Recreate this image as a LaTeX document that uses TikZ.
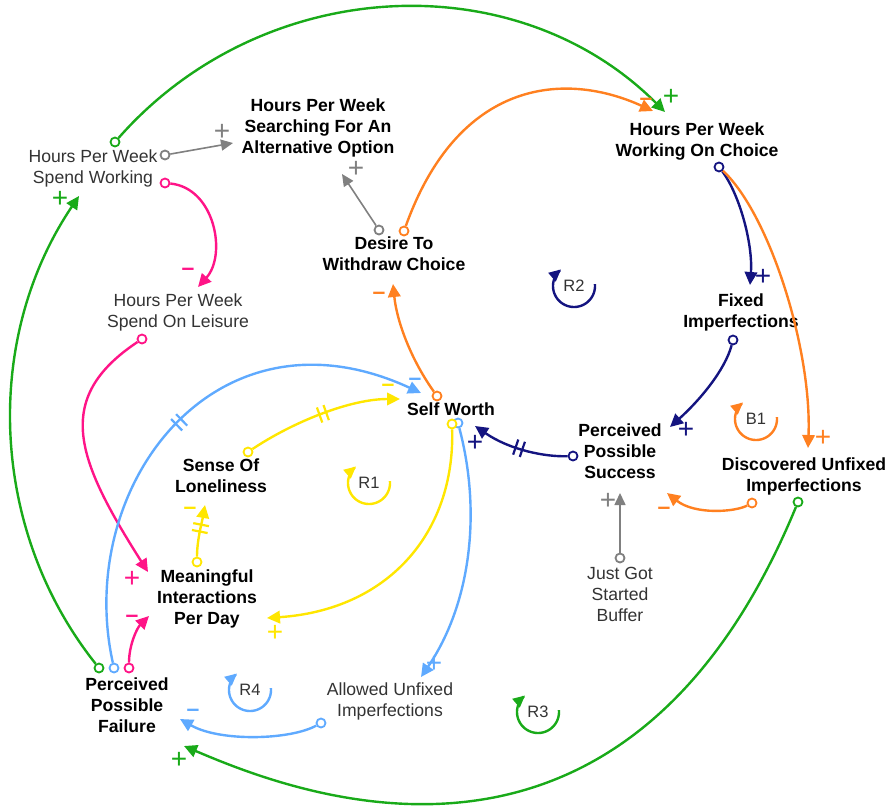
\documentclass[tikz,border=0pt]{standalone}
\usepackage{fontspec}
\setmainfont{Liberation Sans}
\usetikzlibrary{arrows.meta,decorations.markings}
\definecolor{cgreen}{RGB}{25,170,25}
\definecolor{corange}{RGB}{255,128,32}
\definecolor{cpink}{RGB}{255,20,135}
\definecolor{cnavy}{RGB}{20,20,128}
\definecolor{cblue}{RGB}{95,170,255}
\definecolor{cyellow}{RGB}{255,230,0}
\definecolor{cgray}{RGB}{128,128,128}
\tikzset{
  var/.style={font=\fontsize{17.6}{21}\selectfont, align=center, text=black!80, inner sep=0pt},
  bvar/.style={font=\fontsize{17.6}{21}\selectfont\bfseries, align=center, text=black, inner sep=0pt},
  lnk/.style={line width=2.4pt, -{Triangle[length=13pt,width=12.5pt]}},
  glnk/.style={line width=1.6pt, cgray, -{Triangle[length=12pt,width=11pt]}},
  src/.style={circle, draw, line width=1.8pt, fill=white, minimum size=9pt, inner sep=0pt},
  sgnp/.style={font=\fontsize{28}{28}\selectfont, inner sep=0pt},
  sgnm/.style={font=\fontsize{23}{23}\selectfont\bfseries, inner sep=0pt},
  loopl/.style={font=\fontsize{16.5}{18}\selectfont, text=black!80, inner sep=0pt},
  delay/.style 2 args={postaction={decorate,decoration={markings,
      mark=at position #1 with {\draw[-, line width=2.2pt, #2] (-3.5,-8) -- (-3.5,8) (3.5,-8) -- (3.5,8);}}}}
}
\newcommand{\loopmark}[5]{%
  \draw[#3, line width=2.4pt, -{Triangle[length=12pt,width=11pt]}]
    plot[domain=-5:232, samples=50] ({#1+21*cos(\x)},{#2+21*sin(\x)});
  \node[loopl] (#5) at (#1,#2) {#4};
}
\begin{document}
\begin{tikzpicture}[x=1pt,y=-1pt]
\useasboundingbox (0,0) rectangle (888,811);

% variables
\node[var]  (sw) at (93,168)  {Hours Per Week\\Spend Working};
\node[bvar] (sa) at (318,128) {Hours Per Week\\Searching For An\\Alternative Option};
\node[bvar] (wc) at (697,141) {Hours Per Week\\Working On Choice};
\node[bvar] (dw) at (394,254) {Desire To\\Withdraw Choice};
\node[var]  (sl) at (178,312) {Hours Per Week\\Spend On Leisure};
\node[bvar] (fi) at (741,312) {Fixed\\Imperfections};
\node[bvar] (sf) at (451,409) {Self Worth};
\node[bvar] (lo) at (221,476) {Sense Of\\Loneliness};
\node[bvar] (ps) at (620,451) {Perceived\\Possible\\Success};
\node[bvar] (du) at (804,476) {Discovered Unfixed\\Imperfections};
\node[bvar] (mi) at (207,599) {Meaningful\\Interactions\\Per Day};
\node[var]  (jb) at (620,594) {Just Got\\Started\\Buffer};
\node[bvar] (pf) at (127,705) {Perceived\\Possible\\Failure};
\node[var]  (au) at (390,701) {Allowed Unfixed\\Imperfections};

% source circles
\node[src,draw=cgreen]  (c1)  at (115,142) {};
\node[src,draw=cgray]   (c2)  at (165,155) {};
\node[src,draw=cpink]   (c3)  at (165,183) {};
\node[src,draw=cgray]   (c4)  at (379,230) {};
\node[src,draw=corange] (c5)  at (404,231) {};
\node[src,draw=cpink]   (c6)  at (142,339) {};
\node[src,draw=cnavy]   (c7)  at (719,167) {};
\node[src,draw=cnavy]   (c8)  at (733,340) {};
\node[src,draw=corange] (c9)  at (437,396) {};
\node[src,draw=cblue]   (c11) at (458,423) {};
\node[src,draw=cyellow] (c10) at (452,424) {};
\node[src,draw=cyellow] (c12) at (248,452) {};
\node[src,draw=cnavy]   (c13) at (573,456) {};
\node[src,draw=corange] (c14) at (752,503) {};
\node[src,draw=cgreen]  (c15) at (798,502) {};
\node[src,draw=cyellow] (c16) at (197,562) {};
\node[src,draw=cgray]   (c17) at (620,558) {};
\node[src,draw=cgreen]  (c18) at (99,668) {};
\node[src,draw=cblue]   (c19) at (114,668) {};
\node[src,draw=cpink]   (c20) at (129,668) {};
\node[src,draw=cblue]   (c21) at (321,723) {};

% arrow tips
\coordinate (t1) at (665,112);
\coordinate (t2) at (233,143);
\coordinate (t3) at (342,174);
\coordinate (t4) at (198,287);
\coordinate (t5) at (148,572);
\coordinate (t6) at (149,616);
\coordinate (t7) at (79,196);
\coordinate (t8) at (184,746);
\coordinate (t9) at (421,393);
\coordinate (t10) at (400,399);
\coordinate (t11) at (205,505);
\coordinate (t12) at (267,618);
\coordinate (t13) at (421,677);
\coordinate (t14) at (180,719);
\coordinate (t15) at (393,284);
\coordinate (t16) at (653,111);
\coordinate (t17) at (750,285);
\coordinate (t18) at (808,448);
\coordinate (t19) at (670,427);
\coordinate (t20) at (475,426);
\coordinate (t21) at (667,493);
\coordinate (t22) at (620,493);

% links
\draw[lnk,cgreen] (c1) .. controls (262,-25) and (515,-38) .. (t1);
\draw[glnk] (c2) -- (t2);
\draw[glnk] (c4) -- (t3);
\draw[lnk,cpink] (c3) .. controls (215,188) and (227,255) .. (t4);
\draw[lnk,cpink] (c6) .. controls (52,399) and (77,460) .. (t5);
\draw[lnk,cpink] (c20) .. controls (129,645) and (137,628) .. (t6);
\draw[lnk,cgreen] (c18) .. controls (-10,531) and (-18,340) .. (t7);
\draw[lnk,cgreen] (c15) .. controls (625,921) and (301,796) .. (t8);
\draw[lnk,cblue,delay={0.5}{cblue}] (c19) .. controls (74,487) and (215,298) .. (t9);
\draw[lnk,cyellow,delay={0.5}{cyellow}] (c12) .. controls (293,422) and (350,399) .. (t10);
\draw[lnk,cyellow,delay={0.55}{cyellow}] (c16) .. controls (197,540) and (202,522) .. (t11);
\draw[lnk,cyellow] (c10) .. controls (455,534) and (387,610) .. (t12);
\draw[lnk,cblue] (c11) .. controls (482,514) and (470,605) .. (t13);
\draw[lnk,cblue] (c21) .. controls (290,740) and (220,742) .. (t14);
\draw[lnk,corange] (c9) .. controls (412,361) and (397,323) .. (t15);
\draw[lnk,corange] (c5) .. controls (458,81) and (563,70) .. (t16);
\draw[lnk,cnavy] (c7) .. controls (740,195) and (753,245) .. (t17);
\draw[lnk,corange] (c7) .. controls (770,215) and (812,350) .. (t18);
\draw[lnk,cnavy] (c8) .. controls (725,370) and (700,400) .. (t19);
\draw[lnk,cnavy,delay={0.5}{cnavy}] (c13) .. controls (545,457) and (510,450) .. (t20);
\draw[lnk,corange] (c14) .. controls (735,512) and (695,515) .. (t21);
\draw[glnk] (c17) -- (t22);

% polarity signs
\node[sgnp,cgreen]  (p1)  at (671,97)  {+};
\node[sgnp,cgray]   (p2)  at (222,132) {+};
\node[sgnp,cgray]   (p3)  at (356,169) {+};
\node[sgnm,cpink]   (p4)  at (188,272) {–};
\node[sgnp,cpink]   (p5)  at (132,579) {+};
\node[sgnm,cpink]   (p6)  at (132,619) {–};
\node[sgnp,cgreen]  (p7)  at (60,199)  {+};
\node[sgnp,cgreen]  (p8)  at (179,760) {+};
\node[sgnm,cblue]   (p9)  at (415,382) {–};
\node[sgnm,cyellow] (p10) at (388,388) {–};
\node[sgnm,cyellow] (p11) at (190,511) {–};
\node[sgnp,cyellow] (p12) at (275,633) {+};
\node[sgnp,cblue]   (p13) at (434,664) {+};
\node[sgnm,cblue]   (p14) at (193,713) {–};
\node[sgnm,corange] (p15) at (379,296) {–};
\node[sgnm,corange] (p16) at (646,102) {–};
\node[sgnp,cnavy]   (p17) at (763,277) {+};
\node[sgnp,corange] (p18) at (823,438) {+};
\node[sgnp,cnavy]   (p19) at (686,430) {+};
\node[sgnp,cnavy]   (p20) at (475,443) {+};
\node[sgnm,corange] (p21) at (664,511) {–};
\node[sgnp,cgray]   (p22) at (608,501) {+};

% loop markers
\loopmark{369}{483}{cyellow}{R1}{r1}
\loopmark{574}{286}{cnavy}{R2}{r2}
\loopmark{756}{419}{corange}{B1}{b1}
\loopmark{538}{712}{cgreen}{R3}{r3}
\loopmark{250}{690}{cblue}{R4}{r4}
\end{tikzpicture}
\end{document}
